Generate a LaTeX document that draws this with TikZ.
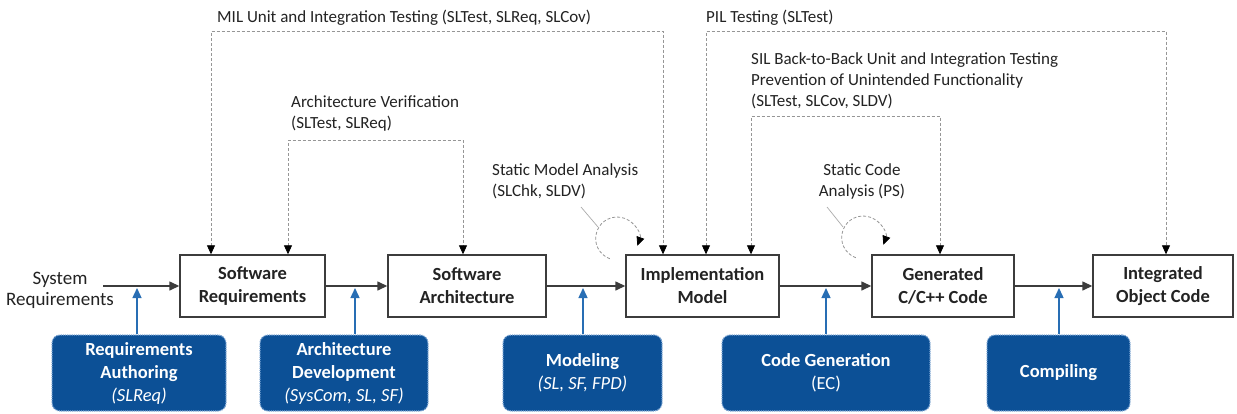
\documentclass[tikz,border=0pt]{standalone}
\usepackage{fontspec}
\setmainfont{Carlito}
\usetikzlibrary{arrows.meta}
\definecolor{bluefill}{RGB}{12,80,150}
\definecolor{blueedge}{RGB}{130,170,215}
\definecolor{bluearrow}{RGB}{40,110,180}
\definecolor{boxline}{RGB}{60,60,60}
\definecolor{testline}{RGB}{150,150,150}
\definecolor{txt}{RGB}{35,35,35}
\newcommand{\labfont}{\fontsize{17}{21}\selectfont}
\newcommand{\bxfont}{\fontsize{18.5}{23}\selectfont\bfseries}
\tikzset{
  mainbox/.style={draw=boxline, line width=1.4pt, fill=white, minimum height=62pt,
    align=center, font=\bxfont, text=txt, inner sep=0pt},
  bluebox/.style={fill=bluefill, draw=blueedge, densely dotted, line width=1.2pt,
    rounded corners=8pt, text=white, align=center, minimum height=76pt,
    font=\bxfont, inner sep=0pt},
  lab/.style={font=\labfont, text=txt, inner sep=0pt},
  flow/.style={line width=1.4pt, draw=boxline, -{Triangle[length=10pt,width=9pt]}},
  bflow/.style={line width=1.4pt, draw=bluearrow, -{Triangle[length=10pt,width=9pt]}},
  test/.style={densely dashed, draw=testline, line width=0.8pt,
    {Triangle[length=9pt,width=8pt,color=black]}-{Triangle[length=9pt,width=8pt,color=black]}},
  loopy/.style={densely dashed, draw=testline, line width=0.8pt,
    -{Triangle[length=9pt,width=8pt,color=black]}},
  pointer/.style={draw=testline!80, line width=0.7pt}
}
\begin{document}
\begin{tikzpicture}[x=1pt,y=-1pt]
\useasboundingbox (0,0) rectangle (1237,413);
\fill[white] (0,0) rectangle (1237,413);

% main chain
\node[mainbox, minimum width=145pt] (sr) at (252.5,286) {Software\\Requirements};
\node[mainbox, minimum width=158pt] (sa) at (467,286) {Software\\Architecture};
\node[mainbox, minimum width=153pt] (im) at (702.5,286) {Implementation\\Model};
\node[mainbox, minimum width=142pt] (gc) at (943,286) {Generated\\C/C++ Code};
\node[mainbox, minimum width=140pt] (io) at (1163,286) {Integrated\\Object Code};
\node[lab, align=center, font=\fontsize{19}{21}\selectfont] (sys) at (60,290) {System\\Requirements};

\coordinate (sysout) at (103,286);
\draw[flow] (sysout) -- (sr.west);
\draw[flow] (sr) -- (sa);
\draw[flow] (sa) -- (im);
\draw[flow] (im) -- (gc);
\draw[flow] (gc) -- (io);

% blue activity boxes
\node[bluebox, minimum width=174pt] (ra) at (139,373) {Requirements\\Authoring\\{\mdseries\itshape (SLReq)}};
\node[bluebox, minimum width=168pt] (ad) at (344,373) {Architecture\\Development\\{\mdseries\itshape (SysCom, SL, SF)}};
\node[bluebox, minimum width=159pt] (mo) at (582.5,373) {Modeling\\{\mdseries\itshape (SL, SF, FPD)}};
\node[bluebox, minimum width=208pt] (cg) at (826,373) {Code Generation\\{\mdseries (EC)}};
\node[bluebox, minimum width=143pt] (co) at (1058.5,373) {Compiling};

\coordinate (b1) at (137,288);
\coordinate (b2) at (355,288);
\coordinate (b3) at (583,288);
\coordinate (b4) at (826,288);
\coordinate (b5) at (1059,288);
\draw[bflow] (ra.north -| b1) -- (b1);
\draw[bflow] (ad.north -| b2) -- (b2);
\draw[bflow] (mo.north -| b3) -- (b3);
\draw[bflow] (cg.north -| b4) -- (b4);
\draw[bflow] (co.north -| b5) -- (b5);

% testing connectors
\coordinate (milL) at (211,31);  \coordinate (milR) at (663,31);
\coordinate (avL) at (288,140);  \coordinate (avR) at (463,140);
\coordinate (pilL) at (706,31);  \coordinate (pilR) at (1166,31);
\coordinate (silL) at (751,116); \coordinate (silR) at (940,116);
\draw[test] (sr.north -| milL) -- (milL) -- (milR) -- (im.north -| milR);
\draw[test] (sr.north -| avL) -- (avL) -- (avR) -- (sa.north -| avR);
\draw[test] (im.north -| pilL) -- (pilL) -- (pilR) -- (io.north -| pilR);
\draw[test] (im.north -| silL) -- (silL) -- (silR) -- (gc.north -| silR);

\node[lab, anchor=west] (milt) at (217,18) {MIL Unit and Integration Testing (SLTest, SLReq, SLCov)};
\node[lab, anchor=west] (pilt) at (706,18) {PIL Testing (SLTest)};
\node[lab, anchor=north west, align=left] (silt) at (751,52) {SIL Back-to-Back Unit and Integration Testing\\Prevention of Unintended Functionality\\(SLTest, SLCov, SLDV)};
\node[lab, anchor=north west, align=left] (avt) at (291,95) {Architecture Verification\\(SLTest, SLReq)};
\node[lab, anchor=north west, align=left] (smt) at (492,163) {Static Model Analysis\\(SLChk, SLDV)};
\node[lab, anchor=north, align=center] (sct) at (862,163) {Static Code\\Analysis (PS)};

% static analysis loops
\coordinate (p1a) at (581,207); \coordinate (p1b) at (598,227);
\coordinate (p2a) at (827,207); \coordinate (p2b) at (843,227);
\draw[pointer] (p1a) -- (p1b);
\draw[pointer] (p2a) -- (p2b);
\coordinate (l1) at (609.8,258.7);
\coordinate (l2) at (855.8,257.7);
\draw[loopy] (l1) arc[start angle=250, end angle=-20, radius=21.5pt];
\draw[loopy] (l2) arc[start angle=250, end angle=-20, radius=21.5pt];
\end{tikzpicture}
\end{document}
